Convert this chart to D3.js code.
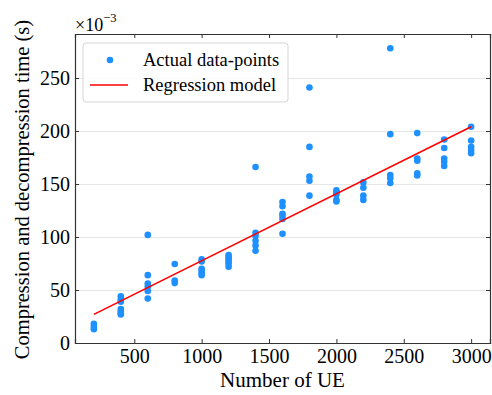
<!DOCTYPE html>
<html>
<head>
<meta charset="utf-8">
<script src="https://cdn.jsdelivr.net/npm/d3@7"></script>
<style>
  body { margin: 0; background: #fff; }
  svg text { font-family: "Liberation Serif", "Times New Roman", Times, serif !important; fill: #000; }
  .grid line { stroke: #e6e6e6; stroke-width: 1; }
  .grid path { display: none; }
  .axis path, .axis line { stroke: #333; }
  .axis text { font-size: 20px; }
</style>
</head>
<body>
<svg id="chart"></svg>
<script>
// number of UE per measurement group
const ueCounts = [200, 400, 600, 800, 1000, 1200, 1400, 1600, 1800, 2000, 2200, 2400, 2600, 2800, 3000];
// measured times (x10^-3 s), one list per UE count
const measured = [
  [18, 15, 13],
  [44, 41, 39, 32, 30, 28, 27],
  [102, 64, 56, 53, 49, 42],
  [74.5, 59, 56.5],
  [79, 77, 70, 68, 66, 64],
  [83, 81, 79, 77, 75, 72],
  [166, 104, 101, 96.5, 92, 87],
  [133, 129, 122, 120, 117, 103],
  [241, 185, 157, 153, 139],
  [144, 142, 140, 135, 133.5],
  [151.5, 146.5, 139, 135],
  [278, 197, 158.5, 155.5, 151],
  [198, 174, 172, 160, 158],
  [192, 184, 174, 171, 167],
  [204, 191, 185, 182, 179]
];
// regression model end points
const regX = [200, 3000];
const regY = [27, 204];

const xTicks = [500, 1000, 1500, 2000, 2500, 3000];
const yTicks = [0, 50, 100, 150, 200, 250];

const W = 492, H = 395;
const margin = { top: 34, right: 2, bottom: 52, left: 75 };
const width = W - margin.left - margin.right;
const height = H - margin.top - margin.bottom;
const serif = '"Liberation Serif", "Times New Roman", Times, serif';

const svg = d3.select("#chart").attr("width", W).attr("height", H);
const g = svg.append("g").attr("transform", `translate(${margin.left},${margin.top})`);

const x = d3.scaleLinear().domain([60, 3140]).range([0, width]);
const y = d3.scaleLinear().domain([0, 291.5]).range([height, 0]);

// horizontal grid
g.append("g")
  .attr("class", "grid")
  .call(d3.axisLeft(y).tickValues(yTicks).tickSize(-width).tickFormat(""));

// points
const points = [];
ueCounts.forEach((u, i) => measured[i].forEach(v => points.push({ u, v })));

g.selectAll("circle.pt")
  .data(points)
  .join("circle")
  .attr("class", "pt")
  .attr("cx", d => x(d.u))
  .attr("cy", d => y(d.v))
  .attr("r", 3.3)
  .attr("fill", "#1e90ff");

// regression line
g.append("path")
  .datum(regX.map((d, i) => [d, regY[i]]))
  .attr("fill", "none")
  .attr("stroke", "#ff0000")
  .attr("stroke-width", 1.6)
  .attr("d", d3.line().x(d => x(d[0])).y(d => y(d[1])));

// axes, ticks pointing inward
g.append("g")
  .attr("class", "axis")
  .attr("transform", `translate(0,${height})`)
  .call(d3.axisBottom(x).tickValues(xTicks).tickSize(-4).tickPadding(6).tickFormat(d3.format("d")));
g.append("g")
  .attr("class", "axis")
  .call(d3.axisTop(x).tickValues(xTicks).tickSize(-4).tickFormat(""));
g.append("g")
  .attr("class", "axis")
  .call(d3.axisLeft(y).tickValues(yTicks).tickSize(-4).tickPadding(5).tickFormat(d3.format("d")));
g.append("g")
  .attr("class", "axis")
  .attr("transform", `translate(${width},0)`)
  .call(d3.axisRight(y).tickValues(yTicks).tickSize(-4).tickFormat(""));

g.selectAll(".axis").attr("font-family", serif);
g.selectAll(".axis path").attr("stroke-width", 1.2);

// axis labels
svg.append("text")
  .attr("x", margin.left + x(1600))
  .attr("y", 387)
  .attr("text-anchor", "middle")
  .style("font-size", "21px")
  .text("Number of UE");

svg.append("text")
  .attr("transform", `translate(29,${margin.top + height / 2 + 1}) rotate(-90)`)
  .attr("text-anchor", "middle")
  .style("font-size", "20.5px")
  .text("Compression and decompression time (s)");

// offset label
const off = svg.append("text").attr("x", 75).attr("y", 31).style("font-size", "18px");
off.append("tspan").text("\u00d710");
off.append("tspan").attr("dy", -9).style("font-size", "12.5px").text("\u22123");

// legend
const legend = svg.append("g").attr("transform", "translate(83,43)");
legend.append("rect")
  .attr("width", 205).attr("height", 59)
  .attr("rx", 3)
  .attr("fill", "#fff").attr("fill-opacity", 0.85)
  .attr("stroke", "#d5d5d5");
legend.append("circle")
  .attr("cx", 27).attr("cy", 17).attr("r", 3.3).attr("fill", "#1e90ff");
legend.append("line")
  .attr("x1", 7).attr("x2", 45).attr("y1", 42).attr("y2", 42)
  .attr("stroke", "#ff0000").attr("stroke-width", 1.6);
legend.append("text").attr("x", 60).attr("y", 23).style("font-size", "18.5px").text("Actual data-points");
legend.append("text").attr("x", 60).attr("y", 48).style("font-size", "18.5px").text("Regression model");

svg.selectAll("text").attr("font-family", serif);
</script>
</body>
</html>
